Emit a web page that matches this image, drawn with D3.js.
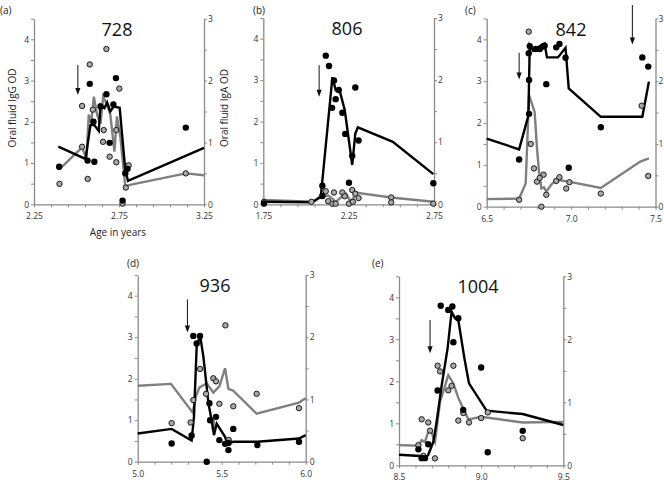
<!DOCTYPE html>
<html><head><meta charset="utf-8">
<script src="https://cdn.jsdelivr.net/npm/d3@7"></script>
<style>body{margin:0;background:#fff} svg{display:block} text{font-family:"Open Sans","Noto Sans",sans-serif}</style>
</head><body><svg id="c" width="664" height="482"></svg>
<script>
// ---------- DATA (age in years; IgG OD on left axis, IgA OD on right axis) ----------
const aTitle = "728", bTitle = "806", cTitle = "842", dTitle = "936", eTitle = "1004";
const aXLabels = [2.25, 2.75, 3.25], bXLabels = [1.75, 2.25, 2.75], cXLabels = [6.5, 7.0, 7.5], dXLabels = [5.0, 5.5, 6.0], eXLabels = [8.5, 9.0, 9.5];
const leftLabels = [0, 1, 2, 3, 4];
const rightLabels = [0, 1, 2, 3];

const aIgGPts = [[2.398,0.91],[2.565,1.06],[2.605,1.03],[2.578,2.92],[2.60,2.0],[2.641,2.37],[2.676,2.67],[2.695,1.49],[2.717,2.42],[2.732,3.06],[2.771,0.09],[2.787,0.75],[2.80,0.86],[3.143,1.86]];
const aIgAPts = [[2.40,0.33],[2.533,1.59],[2.533,0.93],[2.566,0.41],[2.578,2.26],[2.596,1.53],[2.656,1.01],[2.66,1.20],[2.676,2.51],[2.695,0.77],[2.734,1.20],[2.734,0.68],[2.752,1.87],[2.771,0.01],[2.79,0.27],[2.807,0.63],[3.143,0.50]];
const aIgGLine = [[2.393,1.40],[2.553,1.10],[2.582,1.92],[2.605,1.92],[2.631,1.78],[2.641,2.41],[2.664,2.33],[2.68,2.47],[2.699,2.25],[2.719,2.37],[2.754,2.34],[2.787,0.83],[2.803,0.57],[3.25,1.37]];
const aIgALine = [[2.40,0.57],[2.533,0.92],[2.559,0.73],[2.572,1.45],[2.586,1.31],[2.602,1.74],[2.621,1.45],[2.641,1.30],[2.657,1.74],[2.676,1.63],[2.699,1.45],[2.723,0.85],[2.738,1.42],[2.758,1.09],[2.787,0.29],[2.807,0.31],[3.143,0.50],[3.25,0.47]];
const aArrows = [[2.508,3.38,2.65]];

const bIgGPts = [[1.754,0.02],[2.096,0.45],[2.096,0.20],[2.116,3.59],[2.135,3.34],[2.153,2.33],[2.164,2.99],[2.174,2.54],[2.192,2.76],[2.213,2.21],[2.23,1.70],[2.252,0.52],[2.271,1.17],[2.289,2.82],[2.308,1.54],[2.746,0.51]];
const bIgAPts = [[1.754,0.04],[2.032,0.04],[2.116,0.21],[2.13,0.05],[2.155,0.01],[2.164,0.19],[2.174,0.01],[2.213,0.19],[2.227,0.13],[2.252,0.01],[2.271,0.23],[2.275,0.04],[2.289,0.17],[2.308,0.10],[2.499,0.11],[2.499,0.03],[2.746,0.01]];
const bIgGLine = [[1.75,0.06],[2.038,0.05],[2.087,0.19],[2.155,3.07],[2.174,2.76],[2.194,2.80],[2.227,2.28],[2.271,0.95],[2.289,1.71],[2.304,1.86],[2.509,1.51],[2.746,0.73]];
const bIgALine = [[1.75,0.07],[2.038,0.04],[2.10,0.13],[2.13,0.14],[2.16,0.08],[2.174,0.04],[2.213,0.13],[2.235,0.17],[2.255,0.07],[2.275,0.08],[2.289,0.19],[2.499,0.11],[2.746,0.04]];
const bArrows = [[2.077,3.36,2.60]];

const cIgGPts = [[6.692,1.13],[6.751,2.22],[6.751,3.03],[6.749,3.67],[6.755,3.84],[6.79,3.77],[6.814,3.77],[6.833,3.83],[6.843,3.85],[6.853,2.93],[6.912,3.81],[6.931,3.89],[6.967,3.56],[6.986,0.93],[7.176,1.90],[7.422,3.57],[7.457,3.35]];
const cIgAPts = [[6.692,0.11],[6.749,2.79],[6.761,1.0],[6.78,0.61],[6.798,0.40],[6.814,0.46],[6.824,0.0],[6.837,0.51],[6.853,0.19],[6.912,0.41],[6.931,0.47],[6.971,0.29],[6.99,0.39],[7.176,0.21],[7.418,1.61],[7.457,0.49]];
const cIgGLine = [[6.5,1.63],[6.692,1.37],[6.747,2.18],[6.755,3.86],[6.775,3.73],[6.798,3.80],[6.824,3.86],[6.843,3.90],[6.857,3.57],[6.922,3.57],[6.967,3.80],[6.986,2.83],[7.176,2.15],[7.422,2.15],[7.461,2.99]];
const cIgALine = [[6.5,0.12],[6.692,0.13],[6.731,0.37],[6.751,1.78],[6.784,1.51],[6.798,0.93],[6.81,0.56],[6.824,0.29],[6.839,0.31],[6.853,0.24],[6.882,0.35],[6.912,0.43],[6.986,0.40],[7.176,0.30],[7.41,0.72],[7.461,0.77]];
const cArrows = [[6.692,3.68,3.04],[7.363,4.82,3.88]];

const dIgGPts = [[5.202,0.44],[5.321,0.63],[5.331,3.03],[5.351,2.85],[5.371,3.03],[5.411,0.0],[5.427,1.41],[5.431,1.00],[5.466,1.08],[5.486,0.52],[5.52,0.43],[5.54,0.45],[5.54,0.28],[5.569,0.79],[5.712,0.40],[5.96,0.48]];
const dIgAPts = [[5.202,0.62],[5.315,0.63],[5.331,0.99],[5.371,1.49],[5.407,1.09],[5.45,1.34],[5.466,1.29],[5.486,0.93],[5.522,2.19],[5.542,0.35],[5.569,0.89],[5.708,1.09],[5.96,0.86]];
const dIgGLine = [[5.0,0.68],[5.202,0.79],[5.321,0.51],[5.335,1.08],[5.351,2.77],[5.371,3.05],[5.391,2.53],[5.421,1.41],[5.44,1.00],[5.454,0.64],[5.47,0.92],[5.52,0.60],[5.534,0.44],[5.569,0.48],[5.712,0.48],[5.96,0.56],[6.0,0.64]];
const dIgALine = [[5.0,1.22],[5.198,1.25],[5.327,0.79],[5.347,1.05],[5.367,1.19],[5.411,1.26],[5.45,1.11],[5.486,1.21],[5.52,1.50],[5.54,1.17],[5.569,1.14],[5.708,0.77],[5.96,0.95],[6.0,1.02]];
const dArrows = [[5.296,3.91,3.11],[5.454,1.10,0.65]];

const eIgGPts = [[8.618,0.38],[8.638,0.17],[8.658,0.17],[8.678,0.50],[8.735,1.78],[8.754,3.80],[8.80,3.70],[8.825,3.78],[8.831,2.93],[8.861,3.50],[8.891,1.32],[9.0,2.33],[9.04,0.31],[9.253,0.82]];
const eIgAPts = [[8.618,0.32],[8.638,0.73],[8.648,0.15],[8.678,0.68],[8.689,0.55],[8.719,0.11],[8.735,1.58],[8.75,1.49],[8.80,1.19],[8.82,1.26],[8.831,1.58],[8.861,0.71],[8.891,0.83],[8.926,0.68],[9.0,0.75],[9.04,0.84],[9.253,0.43]];
const eIgGLine = [[8.5,0.25],[8.628,0.22],[8.658,0.17],[8.678,0.25],[8.709,0.56],[8.729,1.04],[8.76,1.91],[8.796,2.79],[8.82,3.66],[8.841,3.50],[8.861,3.46],[8.898,2.55],[8.926,1.95],[9.033,1.30],[9.253,1.22],[9.5,0.96]];
const eIgALine = [[8.5,0.32],[8.618,0.31],[8.638,0.40],[8.658,0.37],[8.678,0.53],[8.695,0.56],[8.709,0.43],[8.719,0.37],[8.75,1.01],[8.80,1.43],[8.831,1.30],[8.861,1.07],[8.922,0.73],[9.0,0.77],[9.253,0.68],[9.5,0.69]];
const eArrows = [[8.689,3.46,2.67]];

// ---------- DRAWING ----------
const svg = d3.select("#c");
const AXC = "#8a8a8a", TXT = "#333";

function drawPanel(p) {
  const g = svg.append("g");
  const x = d3.scaleLinear().domain([p.xl[0], p.xl[2]]).range([p.x0, p.x1]);
  const yL = d3.scaleLinear().domain([0, 4.5]).range([p.y0, p.y1]);
  const yR = d3.scaleLinear().domain([0, 3]).range([p.y0, p.y1]);
  const minor = d3.range(0, 11).map(k => +(p.xl[0] + k * 0.1).toFixed(3));
  const isLab = v => p.xl.some(l => Math.abs(l - v) < 1e-6);
  const fmt = p.fmt;

  const xa = g.append("g").attr("transform", `translate(0,${p.y0})`)
    .call(d3.axisBottom(x).tickValues(minor).tickSize(3).tickSizeOuter(0).tickPadding(6)
      .tickFormat(v => isLab(v) ? d3.format(fmt)(v) : ""));
  const la = g.append("g").attr("transform", `translate(${p.x0},0)`)
    .call(d3.axisLeft(yL).tickValues(d3.range(0, 4.51, 0.5)).tickSize(3).tickSizeOuter(0).tickPadding(2)
      .tickFormat(v => leftLabels.includes(v) ? v : ""));
  const ra = g.append("g").attr("transform", `translate(${p.x1},0)`)
    .call(d3.axisRight(yR).tickValues(d3.range(0, 3.01, 0.5)).tickSize(3).tickSizeOuter(0).tickPadding(p.rpad)
      .tickFormat(v => rightLabels.includes(v) ? v : ""));
  [xa, la, ra].forEach(a => {
    a.select(".domain").attr("stroke", AXC).attr("stroke-width", 1.3);
    a.selectAll(".tick line").attr("stroke", AXC);
    a.selectAll("text").attr("fill", TXT).style("font-size", "8.5px").style("font-family", '"Open Sans",sans-serif');
  });

  const line = (ys) => d3.line().x(d => x(d[0])).y(d => ys(d[1]));
  g.append("path").datum(p.igaLine).attr("d", line(yR)).attr("fill", "none")
    .attr("stroke", "#7f7f7f").attr("stroke-width", 2.4).attr("stroke-linejoin", "miter");
  g.append("path").datum(p.iggLine).attr("d", line(yL)).attr("fill", "none")
    .attr("stroke", "#000").attr("stroke-width", 2.4).attr("stroke-linejoin", "miter");

  g.selectAll(".gp").data(p.igaPts).join("circle")
    .attr("cx", d => x(d[0])).attr("cy", d => yR(d[1])).attr("r", 2.7)
    .attr("fill", "#a8a8a8").attr("stroke", "#1a1a1a").attr("stroke-width", 1);
  g.selectAll(".bp").data(p.iggPts).join("circle")
    .attr("cx", d => x(d[0])).attr("cy", d => yL(d[1])).attr("r", 3.2)
    .attr("fill", "#000");

  p.arrows.forEach(a => {
    const ax = x(a[0]), yt = yL(a[1]), yb = yL(a[2]);
    g.append("line").attr("x1", ax).attr("x2", ax).attr("y1", yt).attr("y2", yb - 5)
      .attr("stroke", "#111").attr("stroke-width", 1);
    g.append("path").attr("d", `M${ax - 2.6},${yb - 7}L${ax + 2.6},${yb - 7}L${ax},${yb}Z`).attr("fill", "#111");
  });

  g.append("text").attr("x", p.tx).attr("y", p.ty).attr("text-anchor", "middle")
    .style("font-size", "18px").attr("fill", "#111").text(p.title);
  g.append("text").attr("x", p.lx).attr("y", p.ly).style("font-size", "10px").attr("fill", "#222").text(p.label);
}

drawPanel({x0:34, x1:204, y0:204.3, y1:18.7, xl:aXLabels, fmt:".2f", rpad:1, title:aTitle, tx:117, ty:36, label:"(a)", lx:0, ly:14,
  iggPts:aIgGPts, igaPts:aIgAPts, iggLine:aIgGLine, igaLine:aIgALine, arrows:aArrows});
drawPanel({x0:263.3, x1:434, y0:204.3, y1:18, xl:bXLabels, fmt:".2f", rpad:1, title:bTitle, tx:347, ty:35, label:"(b)", lx:253, ly:14,
  iggPts:bIgGPts, igaPts:bIgAPts, iggLine:bIgGLine, igaLine:bIgALine, arrows:bArrows});
drawPanel({x0:486.7, x1:655.5, y0:206.7, y1:18.5, xl:cXLabels, fmt:".1f", rpad:0, title:cTitle, tx:571, ty:36, label:"(c)", lx:465, ly:14,
  iggPts:cIgGPts, igaPts:cIgAPts, iggLine:cIgGLine, igaLine:cIgALine, arrows:cArrows});
drawPanel({x0:137.7, x1:305.7, y0:461.7, y1:274.9, xl:dXLabels, fmt:".1f", rpad:1, title:dTitle, tx:215, ty:292, label:"(d)", lx:127, ly:267,
  iggPts:dIgGPts, igaPts:dIgAPts, iggLine:dIgGLine, igaLine:dIgALine, arrows:dArrows});
drawPanel({x0:399, x1:563.3, y0:465.3, y1:276.3, xl:eXLabels, fmt:".1f", rpad:1, title:eTitle, tx:478, ty:293, label:"(e)", lx:372, ly:267,
  iggPts:eIgGPts, igaPts:eIgAPts, iggLine:eIgGLine, igaLine:eIgALine, arrows:eArrows});

svg.append("text").attr("x", 118).attr("y", 236).attr("text-anchor", "middle")
  .style("font-size", "10px").attr("fill", "#222").text("Age in years");
svg.append("text").attr("transform", "translate(16,108) rotate(-90)").attr("text-anchor", "middle")
  .style("font-size", "10px").attr("fill", "#222").text("Oral fluid IgG OD");
svg.append("text").attr("transform", "translate(228,108) rotate(-90)").attr("text-anchor", "middle")
  .style("font-size", "10px").attr("fill", "#222").text("Oral fluid IgA OD");
</script></body></html>
